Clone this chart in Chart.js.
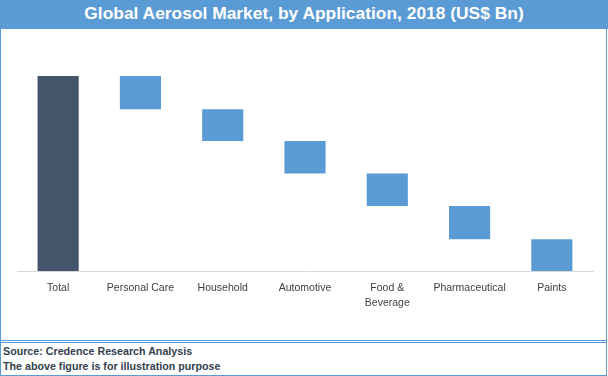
<!DOCTYPE html>
<html>
<head>
<meta charset="utf-8">
<script src="https://cdn.jsdelivr.net/npm/chart.js@4"></script>
<style>
  html, body { margin: 0; padding: 0; background: #fff; }
  #wrap { position: absolute; left: 0; top: 0; width: 608px; height: 376px; overflow: hidden; background: #fff; }
  #title { position: absolute; left: 0; top: 0; width: 608px; height: 29px; background: #5B9BD5; color: #fff;
           font: bold 17.4px "Liberation Sans", Arial, sans-serif; line-height: 26px; text-align: center; white-space: nowrap; }
  .ln { position: absolute; background: #5B9BD5; }
  #cv { position: absolute; left: 1px; top: 29px; }
  .foot { position: absolute; left: 3px; font: bold 10.7px "Liberation Sans", Arial, sans-serif; color: #333F50; line-height: 12px; white-space: nowrap; }
</style>
</head>
<body>
<div id="wrap">
  <div id="title">Global Aerosol Market, by Application, 2018 (US$ Bn)</div>
  <div class="ln" style="left:0;top:29px;width:1px;height:347px"></div>
  <div class="ln" style="left:606px;top:29px;width:1px;height:347px"></div>
  <div class="ln" style="left:0;top:340px;width:607px;height:1px"></div>
  <div class="ln" style="left:0;top:342px;width:607px;height:1px"></div>
  <div class="ln" style="left:0;top:375px;width:607px;height:1px"></div>
  <canvas id="cv" width="605" height="311"></canvas>
  <div class="foot" style="top:345px">Source: Credence Research Analysis</div>
  <div class="foot" style="top:360px">The above figure is for illustration purpose</div>
</div>
<script>
const categories = ['Total', 'Personal Care', 'Household', 'Automotive', ['Food &', 'Beverage'], 'Pharmaceutical', 'Paints'];
const totalValue = 60;
const segmentValues = [10.2, 9.8, 10, 10, 10.2, 9.8];

const ranges = [[0, totalValue]];
let level = totalValue;
for (const v of segmentValues) {
  ranges.push([level - v, level]);
  level -= v;
}
const colors = ranges.map((r, i) => i === 0 ? '#44546A' : '#5B9BD5');

new Chart(document.getElementById('cv'), {
  type: 'bar',
  data: {
    labels: categories,
    datasets: [{
      data: ranges,
      backgroundColor: colors,
      borderWidth: 0,
      barPercentage: 0.5,
      categoryPercentage: 1.0
    }]
  },
  options: {
    responsive: false,
    animation: false,
    layout: { padding: { top: 47, left: 16, right: 13, bottom: 28 } },
    plugins: { legend: { display: false }, tooltip: { enabled: false }, title: { display: false } },
    scales: {
      x: {
        grid: { display: false },
        border: { display: true, color: '#D9D9D9', width: 1 },
        ticks: {
          color: '#404040',
          font: { family: '"Liberation Sans", Arial, sans-serif', size: 10.5, lineHeight: 1.38 },
          padding: 2,
          maxRotation: 0,
          autoSkip: false
        }
      },
      y: { display: false, min: 0, max: totalValue }
    }
  }
});
</script>
</body>
</html>
